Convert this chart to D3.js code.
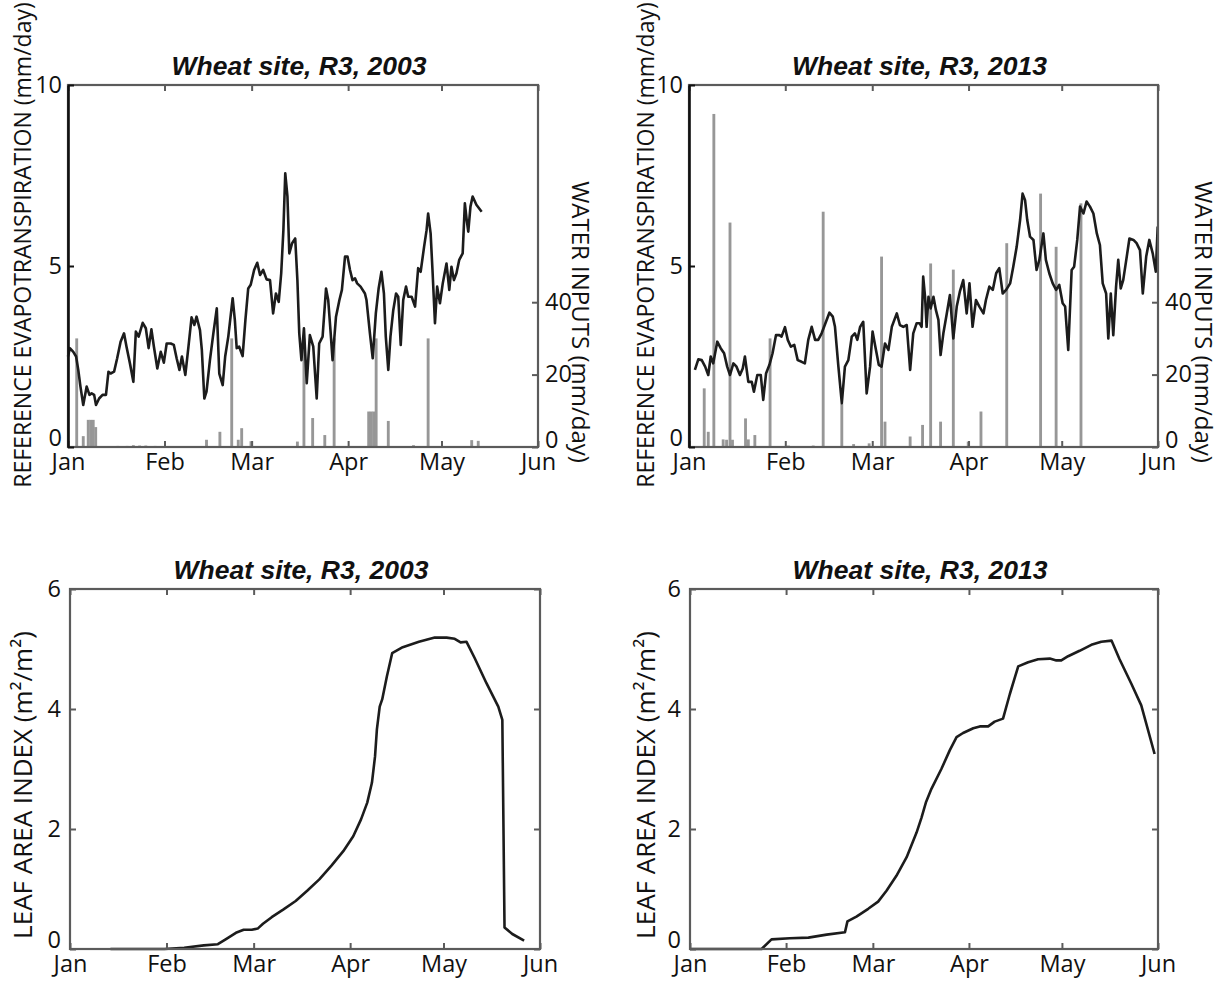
<!DOCTYPE html>
<html><head><meta charset="utf-8">
<script src="https://cdn.jsdelivr.net/npm/d3@7"></script>
<style>
html,body{margin:0;padding:0;background:#fff;}
svg{display:block;}
</style></head>
<body>
<svg id="chart" width="1223" height="983"></svg>
<script>
// ---------- DATA ----------
const monthNames = ["Jan","Feb","Mar","Apr","May","Jun"];
const monthDays = [0,31,59,90,120,151];
const titles = ["Wheat site, R3, 2003","Wheat site, R3, 2013"];
const etTicks = [0,5,10];
const rainTicks = [0,20,40];
const laiTicks = [0,2,4,6];
const etLabel = "REFERENCE EVAPOTRANSPIRATION (mm/day)";
const rainLabel = "WATER INPUTS (mm/day)";
const laiLabel = "LEAF AREA INDEX (m²/m²)";

// reference ET 2003 [day of year from Jan 1, mm/day]
const et2003 = [[0,2.5],[0.6,2.73],[1.7,2.63],[2.6,2.5],[3.3,2.13],[4,1.67],[4.9,1.16],[6,1.67],[6.9,1.44],[7.6,1.48],[8.4,1.44],[9,1.16],[10,1.34],[11.1,1.44],[12.2,1.44],[13,2.08],[13.7,2.03],[14.8,2.08],[15.8,2.45],[16.9,2.91],[18,3.14],[18.8,2.77],[19.9,2.31],[21,1.8],[21.8,3.19],[22.7,3.05],[24,3.43],[25,3.28],[25.9,2.73],[26.8,3.25],[27.6,2.77],[28.7,2.17],[29.8,2.63],[30.8,2.33],[31.7,2.86],[33,2.86],[34,2.82],[34.9,2.45],[35.8,2.13],[36.6,2.5],[37.7,1.99],[38.7,2.77],[39.7,3.58],[40.6,3.37],[41.3,3.6],[42.4,3.23],[43,2.68],[43.8,1.34],[44.5,1.53],[45.6,2.4],[46.7,3.14],[47.8,3.83],[48.6,2.03],[49.7,1.71],[50.5,2.5],[51.5,3.05],[52.9,4.11],[53.6,3.51],[54.2,2.73],[55,2.77],[56.1,2.51],[57,3.51],[57.9,4.38],[58.7,4.48],[59.8,4.89],[60.8,5.09],[61.7,4.75],[62.7,4.89],[63.8,4.63],[64.9,4.61],[65.9,3.69],[66.8,4.24],[67.7,4.01],[68.5,4.8],[69.2,5.99],[69.8,7.56],[70.5,6.92],[71.1,5.35],[72,5.63],[73,5.76],[73.7,4.61],[74.3,3.14],[75,2.4],[75.8,3.28],[76.7,1.76],[77.7,3.09],[78.8,2.77],[79.9,1.34],[80.7,2.86],[81.8,3.05],[82.9,4.38],[83.6,4.06],[84.4,3.14],[85,2.4],[86.1,3.6],[87.2,4.06],[88,4.34],[89,5.26],[89.8,5.26],[90.6,4.89],[91.4,4.61],[92.2,4.66],[92.9,4.52],[94,4.43],[95.4,4.24],[95.9,4.06],[97,3.14],[97.9,2.45],[98.9,3.69],[99.8,4.38],[100.7,4.84],[101.5,4.24],[102.1,3.05],[102.9,2.13],[103.6,3.05],[104.5,3.78],[105.4,4.24],[106.1,4.15],[106.9,2.82],[107.7,4.06],[108.6,4.43],[109.3,4.15],[110.4,4.15],[111.5,3.88],[112.5,4.94],[113.3,4.84],[114.4,5.53],[115.2,5.99],[115.7,6.45],[116.5,5.9],[117.1,4.89],[117.9,3.42],[118.6,4.43],[119.5,3.97],[120.4,4.52],[121.6,5.07],[122.5,4.34],[123.2,4.98],[124,4.61],[124.8,4.8],[125.7,5.17],[126.8,5.35],[127.5,6.73],[128.1,6.27],[128.6,5.95],[129.3,6.64],[130,6.92],[131.2,6.69],[132.9,6.5]];

// water inputs 2003 [day, mm/day]
const rain2003 = [[2.8,30],[4.9,3],[6.5,7.5],[7.3,7.5],[8.1,7.5],[8.9,5.5],[16,0.3],[19,0.3],[21,0.5],[23,0.4],[25,0.4],[28,0.3],[44.5,2],[48.8,4.2],[52.6,30],[54.7,2],[55.8,5.2],[58.8,1.6],[73.7,1.5],[75.8,30],[78.6,8],[82.5,3.3],[85.5,30],[96.6,9.8],[97.4,9.8],[98.2,9.8],[99,30],[102.9,7.2],[111,0.5],[115.7,30],[129.7,1.9],[131.8,1.7]];

// reference ET 2013
const et2013 = [[1.9,2.13],[3,2.42],[4.1,2.4],[5.2,2.22],[6.2,1.99],[7,2.5],[7.8,2.31],[9.1,2.91],[10.2,2.73],[11.3,2.59],[12.3,2.22],[13.2,1.99],[14.3,2.31],[15.3,2.22],[16.4,1.99],[17.3,2.17],[18,2.5],[19.1,1.8],[20.2,1.8],[20.9,1.53],[22,1.99],[23.1,1.99],[23.9,1.3],[24.8,2.03],[25.9,2.27],[26.9,2.59],[28,3.09],[29.1,3.09],[29.8,3.05],[30.9,3.31],[31.8,2.96],[32.8,2.77],[33.9,2.82],[35,2.4],[36.1,2.36],[37.3,2.31],[38.4,2.96],[39.5,3.32],[40.6,2.96],[41.6,2.96],[42.7,3.14],[43.8,3.39],[45.2,3.71],[46.3,3.6],[47,3.32],[48.1,2.22],[49.2,1.21],[50.2,2.22],[51.3,2.4],[52.4,3.05],[53.4,3.14],[54.2,2.96],[55.1,3.32],[56.1,3.46],[57.2,1.48],[58.3,2.22],[59.1,3.19],[60,2.77],[61.1,2.27],[62,2.22],[63.1,2.86],[64.2,2.68],[65.3,3.32],[66.9,3.69],[67.9,3.37],[69,3.32],[70.1,3.37],[71.2,2.13],[72.2,3.14],[73.3,3.42],[74.2,3.42],[74.9,3.32],[75.4,4.71],[76,4.15],[76.5,3.32],[77.1,4.15],[77.8,3.83],[78.7,4.15],[79.5,3.78],[80.3,3.51],[81,2.54],[81.9,3.14],[83,3.69],[84,4.2],[85.1,3.0],[86.2,3.88],[87.2,4.29],[88.3,4.61],[89.4,3.69],[90.3,4.52],[91.3,3.32],[92.4,4.06],[93.5,3.88],[94.8,3.69],[95.6,4.06],[96.7,4.43],[97.8,4.34],[98.9,4.8],[99.9,4.94],[101,4.24],[102.1,4.34],[103.4,4.52],[104.4,4.98],[105.5,5.53],[106.6,6.27],[107.4,7.0],[108.2,6.82],[108.9,6.27],[109.8,5.81],[110.9,5.72],[111.9,4.89],[112.8,5.17],[114.1,5.9],[114.9,5.17],[116,4.8],[117.1,4.52],[118.2,4.34],[119.2,4.48],[120.3,3.97],[121.1,3.88],[122.1,2.68],[123.2,4.89],[124,4.98],[125,5.72],[125.9,6.64],[127,6.45],[128,6.78],[129.1,6.64],[130.2,6.45],[131.3,5.9],[132.3,5.58],[133.2,4.52],[134.3,4.24],[135,3.0],[135.8,4.24],[136.6,3.09],[137.5,4.43],[138.2,5.17],[139,4.38],[139.8,4.61],[140.7,5.12],[141.8,5.76],[143.1,5.72],[144.1,5.63],[145.2,5.44],[146.1,4.24],[147.2,5.26],[148.2,5.72],[149.3,5.35],[150.3,4.84],[150.9,6.09]];

// water inputs 2013
const rain2013 = [[4.9,16.2],[6.2,4.2],[8,92],[11,2.1],[12.1,2],[13.2,62],[14,2],[18.2,7.9],[19.1,2.1],[21.2,3.3],[26.1,30],[32,0.4],[40,0.4],[43.2,65],[49.2,12],[53,0.8],[58,1],[62,52.6],[63.1,7],[71.2,2.9],[75.2,6.1],[77.8,50.7],[81,7],[85.1,49],[89.9,1.5],[94,9.8],[102.3,56.3],[113.2,70],[118.2,55.3],[126.2,67.3]];

// leaf area index 2003
const lai2003 = [[13,0],[30.3,0],[36.7,0.02],[43,0.06],[47.5,0.08],[50,0.16],[53.3,0.27],[55.8,0.32],[58.4,0.32],[60.3,0.34],[62,0.42],[64.8,0.53],[68.6,0.66],[72.5,0.8],[76.2,0.97],[80.1,1.16],[84,1.39],[87.8,1.63],[91,1.88],[93.5,2.16],[95.5,2.44],[97,2.77],[98,3.21],[98.6,3.66],[99.5,4.04],[100.3,4.16],[101.8,4.54],[103.5,4.93],[106.9,5.03],[112.1,5.12],[117.2,5.19],[121,5.19],[123.6,5.17],[125.5,5.11],[127.4,5.12],[130,4.85],[133.8,4.43],[137.6,4.04],[138.9,3.82],[139.6,0.36],[142.1,0.25],[145.9,0.14]];

// leaf area index 2013
const lai2013 = [[0,0],[23.1,0],[26.3,0.16],[32.2,0.18],[38.2,0.19],[44.1,0.24],[50,0.28],[50.8,0.46],[53.7,0.54],[57.5,0.67],[60.7,0.79],[63.4,0.97],[66.6,1.22],[69.9,1.53],[73.1,1.94],[74.7,2.19],[76.1,2.44],[77.9,2.67],[81.1,3.0],[83.8,3.31],[86,3.53],[88.1,3.6],[91.4,3.68],[93.5,3.71],[96.2,3.71],[98.3,3.79],[101,3.84],[103.2,4.25],[105.9,4.71],[109.1,4.78],[112.3,4.83],[116.1,4.84],[118.2,4.81],[119.8,4.81],[122,4.88],[125.7,4.97],[129.5,5.07],[132.7,5.12],[136,5.14],[138.6,4.83],[142.4,4.42],[145.6,4.06],[149.9,3.25]];

// ---------- DRAWING ----------
const svg = d3.select("#chart");
const TICKFONT = "'Open Sans', 'Noto Sans', sans-serif";
const TITLEFONT = "'Liberation Sans', Arial, sans-serif";
const FRAME = "#5b5b5b";
const TS = 23.5;

function frameAxes(g, x, y, L, R, T, B) {
  const tickLen = 6;
  g.append("g").attr("transform", `translate(0,${B})`)
    .call(d3.axisBottom(x).tickValues(monthDays).tickFormat((d,i)=>monthNames[i]).tickSize(-tickLen).tickSizeOuter(0).tickPadding(6))
    .call(a => {
      a.select(".domain").remove();
      a.selectAll(".tick line").attr("stroke", FRAME).attr("stroke-width", 2);
      a.selectAll(".tick text").attr("font-family", TICKFONT).attr("font-size", TS).attr("fill", "#111");
    });
  g.append("g").attr("transform", `translate(0,${T})`)
    .call(d3.axisTop(x).tickValues(monthDays).tickFormat("").tickSize(-tickLen).tickSizeOuter(0))
    .call(a => { a.select(".domain").remove(); a.selectAll(".tick line").attr("stroke", FRAME).attr("stroke-width", 2); });
}

function drawFrame(g, L, R, T, B) {
  g.append("rect").attr("x", L).attr("y", T).attr("width", R-L).attr("height", B-T)
    .attr("fill", "none").attr("stroke", FRAME).attr("stroke-width", 2.2);
}

function title(g, cx, yb, text) {
  g.append("text").attr("x", cx).attr("y", yb).attr("text-anchor", "middle")
    .attr("font-family", TITLEFONT).attr("font-weight", "bold").attr("font-style", "italic")
    .attr("font-size", 26.5).attr("fill", "#111").text(text);
}

function vlabel(g, cx, cy, text, rot, size) {
  g.append("text").attr("transform", `translate(${cx},${cy}) rotate(${rot})`)
    .attr("text-anchor", "middle").attr("dominant-baseline", "central")
    .attr("font-family", TICKFONT).attr("font-size", size).attr("fill", "#111").text(text);
}

function topPanel(L, R, T, B, et, rain, ttl, labLeftX, labRightX) {
  const g = svg.append("g");
  const x = d3.scaleLinear().domain([0, 151]).range([L, R]);
  const y = d3.scaleLinear().domain([0, 10]).range([B, T]);
  const yr = d3.scaleLinear().domain([0, 100]).range([B, T]);
  const bw = (x(1) - x(0)) * 0.92;

  g.append("g").selectAll("rect").data(rain).join("rect")
    .attr("x", d => x(d[0]) - bw/2).attr("width", bw)
    .attr("y", d => yr(d[1])).attr("height", d => yr(0) - yr(d[1]))
    .attr("fill", "#979797");

  g.append("path").datum(et)
    .attr("d", d3.line().x(d => x(d[0])).y(d => y(d[1])))
    .attr("fill", "none").attr("stroke", "#1c1c1c").attr("stroke-width", 2.6).attr("stroke-linejoin", "round");

  drawFrame(g, L, R, T, B);
  frameAxes(g, x, y, L, R, T, B);

  g.append("g").attr("transform", `translate(${L},0)`)
    .call(d3.axisLeft(y).tickValues(etTicks).tickFormat(d3.format("d")).tickSize(-6).tickSizeOuter(0).tickPadding(6))
    .call(a => {
      a.select(".domain").attr("stroke", "#111").attr("stroke-width", 2.6);
      a.selectAll(".tick line").attr("stroke", "#111").attr("stroke-width", 2);
      a.selectAll(".tick text").attr("font-family", TICKFONT).attr("font-size", TS).attr("fill", "#111")
        .attr("dy", d => d === 0 ? "-0.05em" : "0.3em");
    });
  g.append("g").attr("transform", `translate(${R},0)`)
    .call(d3.axisRight(yr).tickValues(rainTicks).tickFormat(d3.format("d")).tickSize(-6).tickSizeOuter(0).tickPadding(7))
    .call(a => {
      a.select(".domain").remove();
      a.selectAll(".tick line").attr("stroke", FRAME).attr("stroke-width", 2);
      a.selectAll(".tick text").attr("font-family", TICKFONT).attr("font-size", TS).attr("fill", "#111")
        .attr("dy", d => d === 0 ? "0em" : "0.3em");
    });

  title(g, (L+R)/2 - 4, T - 10, ttl);
  vlabel(g, labLeftX, 245, etLabel, -90, 23);
  vlabel(g, labRightX, 322, rainLabel, 90, 24);
}

function botPanel(L, R, T, B, lai, ttl, labLeftX) {
  const g = svg.append("g");
  const x = d3.scaleLinear().domain([0, 151]).range([L, R]);
  const y = d3.scaleLinear().domain([0, 6]).range([B, T]);

  g.append("path").datum(lai)
    .attr("d", d3.line().x(d => x(d[0])).y(d => y(d[1])))
    .attr("fill", "none").attr("stroke", "#1c1c1c").attr("stroke-width", 2.6).attr("stroke-linejoin", "round");

  drawFrame(g, L, R, T, B);
  frameAxes(g, x, y, L, R, T, B);

  g.append("g").attr("transform", `translate(${L},0)`)
    .call(d3.axisLeft(y).tickValues(laiTicks).tickFormat(d3.format("d")).tickSize(-6).tickSizeOuter(0).tickPadding(9))
    .call(a => {
      a.select(".domain").remove();
      a.selectAll(".tick line").attr("stroke", FRAME).attr("stroke-width", 2);
      a.selectAll(".tick text").attr("font-family", TICKFONT).attr("font-size", TS).attr("fill", "#111")
        .attr("dy", d => d === 0 ? "-0.05em" : "0.3em");
    });
  g.append("g").attr("transform", `translate(${R},0)`)
    .call(d3.axisRight(y).tickValues(laiTicks).tickSize(-6).tickSizeOuter(0).tickFormat(""))
    .call(a => { a.select(".domain").remove(); a.selectAll(".tick line").attr("stroke", FRAME).attr("stroke-width", 2); });

  title(g, (L+R)/2 - 4, T - 10, ttl);
  vlabel(g, labLeftX, (T+B)/2 + 16, laiLabel, -90, 26);
}

topPanel(68, 538, 85, 447, et2003, rain2003, titles[0], 22, 581);
topPanel(689, 1158, 85, 447, et2013, rain2013, titles[1], 645, 1204);
botPanel(70, 540, 589, 949, lai2003, titles[0], 22);
botPanel(690, 1158, 589, 949, lai2013, titles[1], 645);
</script>
</body></html>
